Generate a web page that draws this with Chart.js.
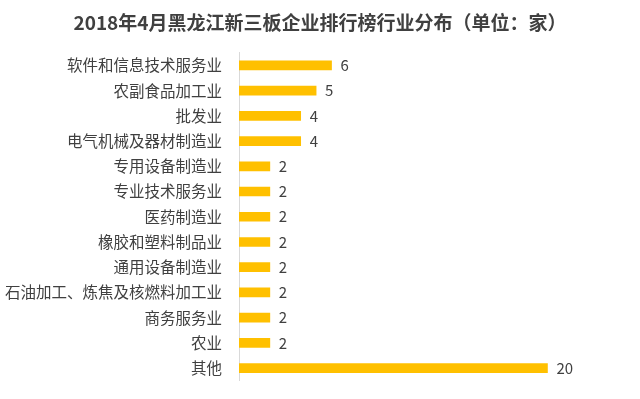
<!DOCTYPE html>
<html>
<head>
<meta charset="utf-8">
<script src="https://cdn.jsdelivr.net/npm/chart.js@4"></script>
<style>
html,body{margin:0;padding:0;background:#fff;}
#wrap{width:640px;height:399px;position:relative;}
</style>
</head>
<body>
<div id="wrap"><canvas id="c" width="640" height="399"></canvas></div>
<script>
const titleText = "2018年4月黑龙江新三板企业排行榜行业分布（单位：家）";
const categories = ["软件和信息技术服务业","农副食品加工业","批发业","电气机械及器材制造业","专用设备制造业","专业技术服务业","医药制造业","橡胶和塑料制品业","通用设备制造业","石油加工、炼焦及核燃料加工业","商务服务业","农业","其他"];
const counts = [6,5,4,4,2,2,2,2,2,2,2,2,20];

const valueLabels = {
  id: 'valueLabels',
  afterDatasetsDraw(chart) {
    const ctx = chart.ctx;
    const meta = chart.getDatasetMeta(0);
    ctx.save();
    ctx.font = '15px "Noto Sans CJK SC", "Noto Sans", sans-serif';
    ctx.fillStyle = '#404040';
    ctx.textAlign = 'left';
    ctx.textBaseline = 'middle';
    meta.data.forEach((el, i) => {
      ctx.fillText(String(chart.data.datasets[0].data[i]), el.x + 9, el.y);
    });
    ctx.restore();
  }
};

new Chart(document.getElementById('c'), {
  type: 'bar',
  data: {
    labels: categories,
    datasets: [{
      data: counts,
      backgroundColor: '#FFC000',
      borderWidth: 0,
      barThickness: 9
    }]
  },
  options: {
    indexAxis: 'y',
    responsive: false,
    animation: false,
    layout: { padding: { left: 0, right: 0, top: 0, bottom: 16 } },
    plugins: {
      legend: { display: false },
      tooltip: { enabled: false },
      title: {
        display: true,
        text: titleText,
        color: '#404040',
        font: { family: '"Noto Sans CJK SC", "Noto Sans", sans-serif', size: 19, weight: 'bold' },
        padding: { top: 11, bottom: 19 }
      }
    },
    scales: {
      x: { display: false, min: 0, max: 26 },
      y: {
        grid: { display: false },
        border: { display: true, color: '#D9D9D9', width: 1 },
        ticks: {
          color: '#404040',
          padding: 9,
          font: { family: '"Noto Sans CJK SC", "Noto Sans", sans-serif', size: 15.5 }
        },
        afterFit(scale) { scale.width = 239; }
      }
    }
  },
  plugins: [valueLabels]
});
</script>
</body>
</html>
